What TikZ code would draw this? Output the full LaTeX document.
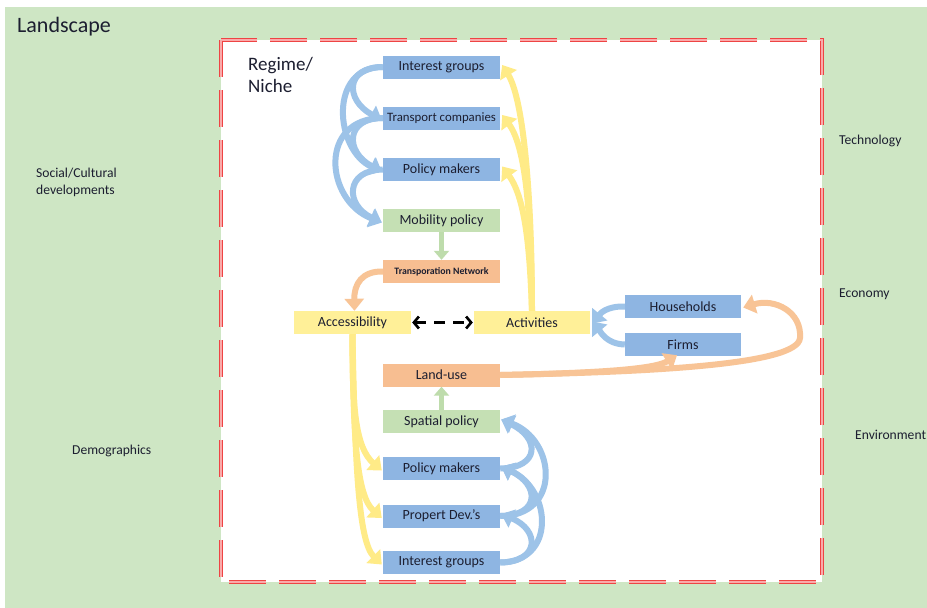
\documentclass[tikz,border=0pt]{standalone}
\usepackage{fontspec}
\setmainfont{Carlito}
\usetikzlibrary{arrows.meta}
\definecolor{landbg}{RGB}{206,230,196}
\definecolor{framered}{RGB}{238,68,68}
\definecolor{framepink}{RGB}{250,170,170}
\definecolor{boxblue}{RGB}{142,181,226}
\definecolor{boxgreen}{RGB}{197,224,180}
\definecolor{boxorange}{RGB}{247,190,145}
\definecolor{boxyellow}{RGB}{255,240,152}
\definecolor{arrblue}{RGB}{157,195,232}
\definecolor{arryellow}{RGB}{255,235,135}
\definecolor{arrorange}{RGB}{248,196,150}
\definecolor{arrgreen}{RGB}{190,220,172}
\definecolor{inktext}{RGB}{28,30,48}
\begin{document}
\begin{tikzpicture}[x=1pt,y=-1pt,
  box/.style={minimum width=117pt,minimum height=23pt,inner sep=0pt,text=inktext,
    font=\fontsize{14}{15}\selectfont},
  bluebox/.style={box,fill=boxblue},
  greenbox/.style={box,fill=boxgreen},
  orangebox/.style={box,fill=boxorange},
  yellowbox/.style={box,fill=boxyellow},
  label/.style={anchor=west,inner sep=0pt,text=inktext,align=left,
    font=\fontsize{13.6}{17}\selectfont},
  thick arrow/.style={line width=6pt,-{Triangle[length=12pt,width=19pt]}},
  bluearrow/.style={thick arrow,draw=arrblue},
  yellowarrow/.style={thick arrow,draw=arryellow},
  orangearrow/.style={thick arrow,draw=arrorange},
  greenarrow/.style={line width=5pt,draw=arrgreen,-{Triangle[length=9pt,width=15pt]}},
]
\useasboundingbox (0,0) rectangle (927,608);

% landscape background
\fill[landbg] (5,7) rectangle (927,608);
\node[anchor=west,inner sep=0pt,text=inktext,font=\fontsize{22}{24}\selectfont] (landscape) at (17,27) {Landscape};

% landscape factors
\node[label] (social) at (36,182) {Social/Cultural\\developments};
\node[label] (demo) at (72,451) {Demographics};
\node[label] (tech) at (839,141) {Technology};
\node[label] (econ) at (839,294) {Economy};
\node[label] (env) at (855,435) {Environment};

% regime / niche frame
\fill[white] (221,40) rectangle (822,582);
\draw[framered,line width=4.5pt,dash pattern=on 37pt off 13pt] (221,40) rectangle (822,582);
\draw[framepink,line width=1.2pt,dash pattern=on 37pt off 13pt] (221,40) rectangle (822,582);
\node[anchor=north west,inner sep=0pt,align=left,text=inktext,font=\fontsize{19}{22}\selectfont] (regime) at (248,57) {Regime/\\Niche};

% actors and policies
\node[bluebox] (ig1) at (441.5,67) {Interest groups};
\node[bluebox,font=\fontsize{12.8}{14}\selectfont] (tc) at (441.5,118) {Transport companies};
\node[bluebox] (pm1) at (441.5,169.5) {Policy makers};
\node[greenbox] (mp) at (441.5,220.5) {Mobility policy};
\node[orangebox,font=\bfseries\fontsize{9.8}{11}\selectfont] (tn) at (441.5,271.5) {Transporation Network};
\node[yellowbox] (acc) at (352.5,322.5) {Accessibility};
\node[yellowbox,minimum width=116pt] (act) at (532,322.5) {Activities};
\node[bluebox,minimum width=116pt] (hh) at (683,306.5) {Households};
\node[bluebox,minimum width=116pt] (firms) at (683,344.5) {Firms};
\node[orangebox] (lu) at (441.5,375) {Land-use};
\node[greenbox] (sp) at (441.5,421.5) {Spatial policy};
\node[bluebox] (pm2) at (441.5,468.5) {Policy makers};
\node[bluebox] (pd) at (441.5,516) {Propert Dev.'s};
\node[bluebox] (ig2) at (441.5,562.5) {Interest groups};

% upper actor chain
\draw[bluearrow] (ig1.west) .. controls (345,67) and (345,100) .. ([xshift=-1pt,yshift=-2pt]tc.west);
\draw[bluearrow] (ig1.west) .. controls (328,67) and (335,150) .. ([xshift=-1pt,yshift=-2pt]pm1.west);
\draw[bluearrow] (tc.west) .. controls (345,118) and (345,152) .. ([xshift=-1pt,yshift=-2pt]pm1.west);
\draw[bluearrow] (tc.west) .. controls (318,118) and (325,200) .. ([xshift=-1pt,yshift=-2pt]mp.west);
\draw[bluearrow] (pm1.west) .. controls (345,170) and (345,205) .. ([xshift=-1pt,yshift=-2pt]mp.west);

% lower actor chain
\draw[bluearrow] (ig2.east) .. controls (540,562) and (540,530) .. ([xshift=1pt,yshift=2pt]pd.east);
\draw[bluearrow] (ig2.east) .. controls (556,562) and (552,490) .. ([xshift=1pt,yshift=2pt]pm2.east);
\draw[bluearrow] (pd.east) .. controls (540,516) and (540,485) .. ([xshift=1pt,yshift=2pt]pm2.east);
\draw[bluearrow] (pd.east) .. controls (562,516) and (556,440) .. ([xshift=1pt,yshift=2pt]sp.east);
\draw[bluearrow] (pm2.east) .. controls (540,468) and (540,438) .. ([xshift=1pt,yshift=2pt]sp.east);

% activities feed the upper actors
\draw[yellowarrow] (act.north) .. controls (532,200) and (524,100) .. ([xshift=2pt,yshift=2pt]ig1.east);
\draw[yellowarrow] (act.north) .. controls (531,230) and (528,150) .. ([xshift=2pt,yshift=3pt]tc.east);
\draw[yellowarrow] (act.north) .. controls (530,260) and (527,200) .. ([xshift=2pt,yshift=3pt]pm1.east);

% accessibility feeds the lower actors
\draw[yellowarrow] (acc.south) .. controls (352,410) and (356,448) .. ([xshift=-1pt,yshift=-2pt]pm2.west);
\draw[yellowarrow] (acc.south) .. controls (353,440) and (357,496) .. ([xshift=-1pt,yshift=-2pt]pd.west);
\draw[yellowarrow] (acc.south) .. controls (355,470) and (359,542) .. ([xshift=-1pt,yshift=-2pt]ig2.west);

% policies shape networks and land use
\draw[greenarrow] (mp.south) -- (tn.north);
\draw[greenarrow] (sp.north) -- (lu.south);

% network and land-use effects
\draw[orangearrow] (tn.west) .. controls (362,271) and (354,284) .. ([xshift=2pt]acc.north);
\draw[orangearrow] (lu.east) .. controls (650,372) and (798,365) .. (800,338)
  .. controls (802,312) and (775,298) .. ([xshift=2pt,yshift=-1pt]hh.east);
\draw[orangearrow] (lu.east) .. controls (600,373) and (655,369) .. ([xshift=-6pt,yshift=1pt]firms.south);

% households and firms drive activities
\draw[bluearrow] (hh.west) .. controls (606,306) and (600,314) .. ([xshift=2pt,yshift=-1pt]act.east);
\draw[bluearrow] (firms.west) .. controls (606,344) and (600,331) .. ([xshift=2pt,yshift=1pt]act.east);

% accessibility and activities interact
\draw[line width=2.6pt,dash pattern=on 11pt off 8pt,
  {Straight Barb[length=5pt,width=12pt]}-{Straight Barb[length=5pt,width=12pt]}]
  ([xshift=1pt]acc.east) -- ([xshift=-1pt]act.west);
\end{tikzpicture}
\end{document}
